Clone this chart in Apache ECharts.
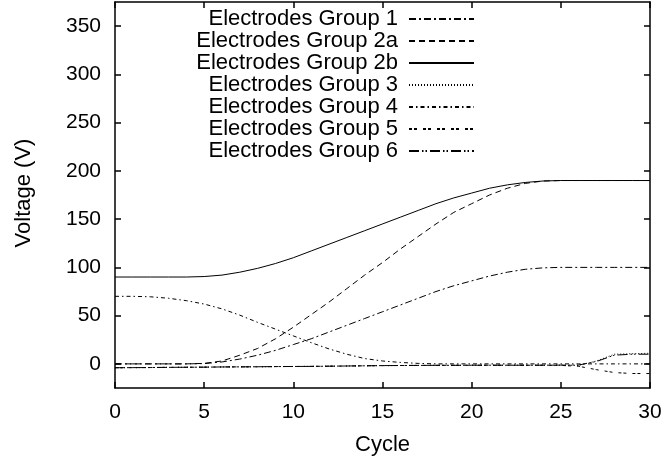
<!DOCTYPE html>
<html>
<head>
<meta charset="utf-8">
<script src="https://cdn.jsdelivr.net/npm/echarts@6/dist/echarts.min.js"></script>
<style>
  html, body { margin: 0; padding: 0; background: #fff; }
  #chart { width: 670px; height: 461px; }
</style>
</head>
<body>
<div id="chart"></div>
<script>
const cycles = [0, 1, 2, 3, 4, 5, 6, 7, 8, 9, 10, 11, 12, 13, 14, 15, 16, 17, 18, 19, 20, 21, 22, 23, 24, 25, 26, 27, 28, 29, 30]

const group1 = [0, 0, 0, 0, 0, 0.3, 2, 5, 9, 14, 20, 26, 33, 40, 47, 54, 61, 68, 75, 81, 86, 91, 95, 98, 99.5, 100, 100, 100, 100, 100, 100]
const group2a = [0, 0, 0, 0, 0, 0.5, 3, 9, 16, 26, 38, 51, 64, 78, 92, 105, 119, 132, 145, 157, 166, 175, 182, 187, 189.5, 190, 190, 190, 190, 190, 190]
const group2b = [90, 90, 90, 90, 90, 90.5, 92, 95, 99, 104, 110, 117, 124, 131, 138, 145, 152, 159, 166, 172, 177, 182, 185.5, 188, 189.5, 190, 190, 190, 190, 190, 190]
const group3 = [-4, -3.9, -3.8, -3.6, -3.5, -3.4, -3.2, -3.1, -3, -2.8, -2.7, -2.6, -2.4, -2.2, -2, -1.8, -1.7, -1.6, -1.5, -1.5, -1.4, -1.4, -1.4, -1.4, -1.4, -1.3, -1.5, 3, 10, 10.5, 11]
const group4 = [70, 70, 69.5, 68, 65.5, 62, 57, 50.5, 43, 36, 29, 22, 15.5, 10, 5.5, 3, 1.5, 0.5, 0, 0, 0, 0, 0, 0, 0, 0, 0, 0, 0, 0, 0]
const group5 = [-4, -3.9, -3.8, -3.6, -3.5, -3.4, -3.2, -3.1, -3, -2.8, -2.7, -2.6, -2.4, -2.2, -2, -1.8, -1.7, -1.6, -1.5, -1.5, -1.4, -1.4, -1.4, -1.4, -1.4, -1.6, -2.5, -6, -9, -10, -10]
const group6 = [-4, -3.9, -3.8, -3.6, -3.5, -3.4, -3.2, -3.1, -3, -2.8, -2.7, -2.6, -2.4, -2.2, -2, -1.8, -1.7, -1.6, -1.5, -1.5, -1.4, -1.4, -1.4, -1.4, -1.4, -1.3, -1.2, 2.5, 9, 10, 10]

const yTicks = [0, 50, 100, 150, 200, 250, 300, 350]

const seriesDefs = [
  { name: 'Electrodes Group 1', data: group1, dash: [7, 3, 2, 3] },
  { name: 'Electrodes Group 2a', data: group2a, dash: [6, 4] },
  { name: 'Electrodes Group 2b', data: group2b, dash: 'solid' },
  { name: 'Electrodes Group 3', data: group3, dash: [1, 2] },
  { name: 'Electrodes Group 4', data: group4, dash: [4, 3, 1.5, 3] },
  { name: 'Electrodes Group 5', data: group5, dash: [3, 2, 3, 6] },
  { name: 'Electrodes Group 6', data: group6, dash: [10, 3, 1.5, 2, 1.5, 3] }
]

const font = 'Liberation Sans'
const black = '#000'

const chart = echarts.init(document.getElementById('chart'), null, { renderer: 'canvas' })

const frameAxis = {
  axisLine: { show: true, onZero: false, lineStyle: { color: black, width: 1.5 } },
  axisTick: { show: true, inside: true, length: 6, lineStyle: { color: black, width: 1.5 } },
  splitLine: { show: false }
}

const option = {
  animation: false,
  backgroundColor: '#fff',
  grid: { left: 115, right: 20, top: 2, bottom: 72, containLabel: false },
  legend: {
    data: seriesDefs.map(s => s.name),
    orient: 'vertical',
    right: 195,
    top: 8,
    align: 'right',
    itemWidth: 65,
    itemHeight: 14,
    itemGap: 0,
    padding: 0,
    selectedMode: false,
    // hide the marker dot, keep only the line sample
    itemStyle: { opacity: 0 },
    textStyle: { fontFamily: font, fontSize: 22, color: black, padding: [0, 6, 0, 0] }
  },
  xAxis: [
    {
      type: 'value', min: 0, max: 30, interval: 5, position: 'bottom',
      ...frameAxis,
      axisLabel: { color: black, fontFamily: font, fontSize: 21, margin: 14 },
      name: 'Cycle', nameLocation: 'middle', nameGap: 46,
      nameTextStyle: { color: black, fontFamily: font, fontSize: 22 }
    },
    {
      type: 'value', min: 0, max: 30, interval: 5, position: 'top',
      ...frameAxis,
      axisLabel: { show: false }
    }
  ],
  yAxis: [
    {
      type: 'value', min: -25, max: 375, position: 'left',
      ...frameAxis,
      axisTick: { ...frameAxis.axisTick, customValues: yTicks },
      axisLabel: { color: black, fontFamily: font, fontSize: 21, margin: 14, customValues: yTicks },
      name: 'Voltage (V)', nameLocation: 'middle', nameGap: 80,
      nameTextStyle: { color: black, fontFamily: font, fontSize: 22, padding: [0, 0, 0, 4] }
    },
    {
      type: 'value', min: -25, max: 375, position: 'right',
      ...frameAxis,
      axisTick: { ...frameAxis.axisTick, customValues: yTicks },
      axisLabel: { show: false }
    }
  ],
  series: seriesDefs.map(s => ({
    name: s.name,
    type: 'line',
    xAxisIndex: 0,
    yAxisIndex: 0,
    symbol: 'none',
    showSymbol: false,
    data: cycles.map((c, i) => [c, s.data[i]]),
    itemStyle: { color: black },
    lineStyle: { color: black, width: 1, type: s.dash },
    emphasis: { disabled: true }
  }))
}

chart.setOption(option)
</script>
</body>
</html>
